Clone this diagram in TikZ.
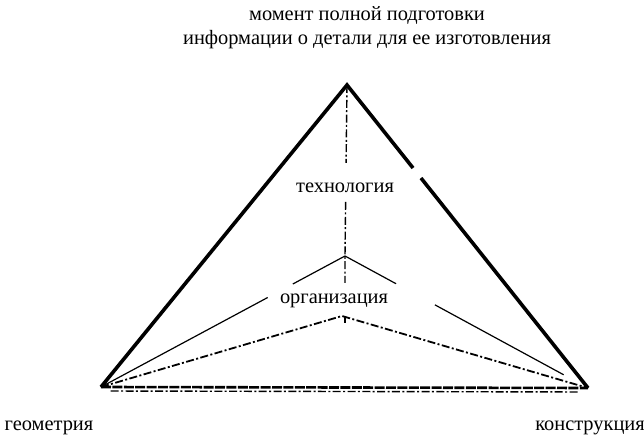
\documentclass[tikz,border=0pt]{standalone}
\usepackage{fontspec}
\setmainfont{Liberation Serif}
\usetikzlibrary{calc}

\begin{document}
\begin{tikzpicture}[x=0.5pt,y=-0.5pt]
    \tikzset{every node/.style={inner sep=0pt, font=\fontsize{10.2}{12}\selectfont},
      side/.style={black, line width=1.8pt, line join=miter},
      thin/.style={black, line width=0.6pt},
      axis/.style={black, line width=0.7pt, dash pattern=on 4pt off 1.2pt on 1pt off 1.2pt}}
    \useasboundingbox (0,0) rectangle (644,438);
    \coordinate (apex) at (347,85);
    \coordinate (geo) at (101,387);
    \coordinate (kon) at (588,388);
    \coordinate (junc) at (345,256);
    \coordinate (peak) at (342,316);
    % big triangle
    \draw [side] (geo) -- (apex) -- ($(apex)!0.274!(kon)$);
    \draw [side] ($(apex)!0.307!(kon)$) -- (kon);
    \draw [black, line width=1.3pt, dash pattern=on 5pt off 0.7pt] (geo) -- (kon);
    \draw [axis] ($(geo)!0.02!(kon)+(0,4)$) -- ($(geo)!0.98!(kon)+(0,4)$);
    % inner lines
    \draw [axis] (apex) -- ($(apex)!0.456!(junc)$);
    \draw [axis] ($(apex)!0.684!(junc)$) -- (junc) -- ($(junc)+(0,27)$);
    \draw [thin] (junc) -- ($(junc)!0.214!(geo)$);
    \draw [thin] ($(junc)!0.317!(geo)$) -- (geo);
    \draw [thin] (junc) -- ($(junc)!0.21!(kon)$);
    \draw [thin] ($(junc)!0.37!(kon)$) -- ($(junc)!0.9!(kon)$);
    \draw [axis, line width=0.9pt] (geo) -- (peak) -- (kon);
    \draw [axis] ($(peak)+(3,0)$) -- ++(0,7);
    % labels
    \node (moment) at (367,15) {момент полной подготовки};
    \node (info) at (367,40) {информации о детали для ее изготовления};
    \node (tech) at (345,188) {технология};
    \node (org) at (334,301) {организация};
    \node (geoL) at (49,428) {геометрия};
    \node (konL) at (590,428) {конструкция};
\end{tikzpicture}
\end{document}
